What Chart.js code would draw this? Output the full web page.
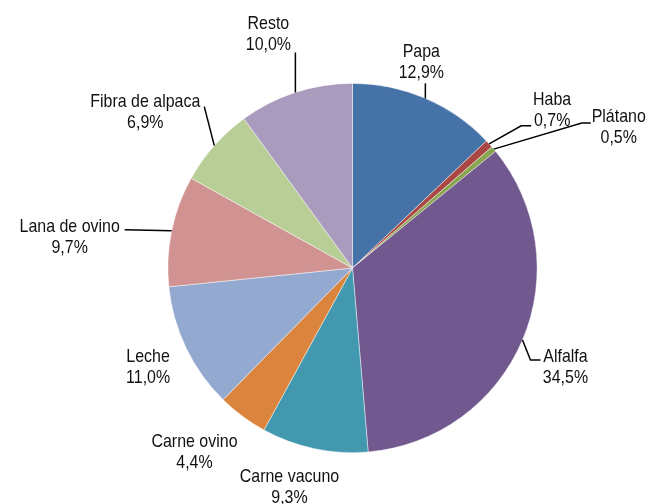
<!DOCTYPE html>
<html>
<head>
<meta charset="utf-8">
<script src="https://cdn.jsdelivr.net/npm/chart.js@4/dist/chart.umd.min.js"></script>
<style>
  html, body { margin: 0; padding: 0; background: #fff; }
  #wrap { width: 648px; height: 504px; position: relative; }
</style>
</head>
<body>
<div id="wrap"><canvas id="pie"></canvas></div>
<script>
const categories = ["Papa", "Haba", "Plátano", "Alfalfa", "Carne vacuno", "Carne ovino", "Leche", "Lana de ovino", "Fibra de alpaca", "Resto"];
const shares = [12.9, 0.7, 0.5, 34.5, 9.3, 4.4, 11.0, 9.7, 6.9, 10.0];
const colors = ["#4572A7", "#AA4643", "#89A54E", "#71588F", "#4198AF", "#DB843D", "#93A9CF", "#D19392", "#B9CD96", "#A99BBD"];

// label placement relative to the point where each slice meets the rim
// line: leader points (dx,dy); text: [centre dx, first baseline dy]
const labelLayout = [
  { line: [[0, -15]], text: [-4, -41] },
  { line: [[32, -18], [42, -18]], text: [63, -39] },
  { line: [[88, -26], [97, -26]], text: [125, -27] },
  { line: [[8, 20], [18, 20]], text: [43, 22] },
  { line: [], text: [-25, 33] },
  { line: [], text: [-48, 31] },
  { line: [], text: [-38, 14] },
  { line: [[-47, -1]], text: [-102, 1] },
  { line: [[-10, -39]], text: [-69, -39] },
  { line: [[0, -40]], text: [-27, -63] }
];

const fmtPct = v => v.toFixed(1).replace(".", ",") + "%";

// no narrow font installed, so squeeze the regular one horizontally
const NARROW = 0.84;

function narrowText(ctx, str, x, y) {
  ctx.save();
  ctx.translate(x, y);
  ctx.scale(NARROW, 1);
  ctx.fillText(str, 0, 0);
  ctx.restore();
}

const outsideLabels = {
  id: "outsideLabels",
  afterDraw(chart) {
    const ctx = chart.ctx;
    const arcs = chart.getDatasetMeta(0).data;
    ctx.save();
    ctx.font = '19px "Liberation Sans", Arial, sans-serif';
    ctx.fillStyle = "#111";
    ctx.strokeStyle = "#000";
    ctx.lineWidth = 1.5;
    ctx.textAlign = "center";
    ctx.textBaseline = "alphabetic";
    arcs.forEach((arc, i) => {
      const p = arc.getProps(["x", "y", "startAngle", "endAngle", "outerRadius"], true);
      const mid = (p.startAngle + p.endAngle) / 2;
      const ex = p.x + Math.cos(mid) * p.outerRadius;
      const ey = p.y + Math.sin(mid) * p.outerRadius;
      const lay = labelLayout[i];
      if (lay.line.length) {
        ctx.beginPath();
        ctx.moveTo(ex, ey);
        lay.line.forEach(pt => ctx.lineTo(ex + pt[0], ey + pt[1]));
        ctx.stroke();
      }
      const tx = ex + lay.text[0];
      const ty = ey + lay.text[1];
      narrowText(ctx, categories[i], tx, ty);
      narrowText(ctx, fmtPct(shares[i]), tx, ty + 21);
    });
    ctx.restore();
  }
};

new Chart(document.getElementById("pie"), {
  type: "pie",
  data: {
    labels: categories,
    datasets: [{
      data: shares,
      backgroundColor: colors,
      borderColor: "rgba(255,255,255,0.6)",
      borderWidth: 0.75
    }]
  },
  options: {
    responsive: true,
    maintainAspectRatio: false,
    animation: false,
    layout: { padding: { left: 167, right: 110, top: 83, bottom: 51 } },
    plugins: {
      legend: { display: false },
      tooltip: { enabled: false }
    }
  },
  plugins: [outsideLabels]
});
</script>
</body>
</html>
